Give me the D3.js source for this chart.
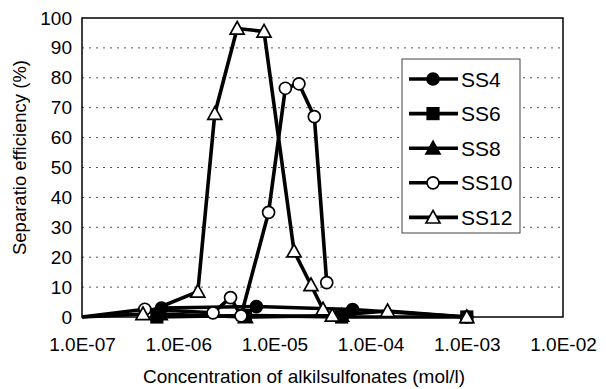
<!DOCTYPE html>
<html>
<head>
<meta charset="utf-8">
<script src="https://cdn.jsdelivr.net/npm/d3@7"></script>
<style>
  html, body { margin: 0; padding: 0; background: #fff; }
  svg { display: block; font-family: "Liberation Sans", Arial, Helvetica, sans-serif; }
</style>
</head>
<body>
<svg id="chart" width="606" height="389"></svg>
<script>
// ---- data ----
const seriesNames = ["SS4", "SS6", "SS8", "SS10", "SS12"];
const ss4Conc  = [6.7e-7, 6.5e-6, 6.5e-5, 1e-3];
const ss4Eff   = [3, 3.5, 2.5, 0];
const ss6Conc  = [6e-7, 5e-6, 5e-5, 1e-3];
const ss6Eff   = [0, 0.5, 0, 0];
const ss8Conc  = [6.5e-7, 5e-6, 5e-5];
const ss8Eff   = [1, 0, 0.5];
const ss10Conc = [1e-7, 4.5e-7, 2.3e-6, 3.5e-6, 4.5e-6, 8.7e-6, 1.3e-5, 1.8e-5, 2.6e-5, 3.5e-5];
const ss10Eff  = [0, 2.6, 1.4, 6.5, 0.4, 35, 76.5, 78, 67, 11.5];
const ss12Conc = [1e-7, 4.3e-7, 1.6e-6, 2.4e-6, 4.1e-6, 7.8e-6, 1.6e-5, 2.4e-5, 3.2e-5, 4e-5, 1.5e-4, 1e-3];
const ss12Eff  = [0, 1, 8.5, 68, 96.5, 95.5, 22, 10.7, 2.6, 0.5, 2, 0];
const xTickValues = [1e-7, 1e-6, 1e-5, 1e-4, 1e-3, 1e-2];
const xTickLabels = ["1.0E-07", "1.0E-06", "1.0E-05", "1.0E-04", "1.0E-03", "1.0E-02"];
const yTickValues = [0, 10, 20, 30, 40, 50, 60, 70, 80, 90, 100];
const xTitle = "Concentration of alkilsulfonates (mol/l)";
const yTitle = "Separatio efficiency (%)";

const seriesConc = [ss4Conc, ss6Conc, ss8Conc, ss10Conc, ss12Conc];
const seriesEff  = [ss4Eff, ss6Eff, ss8Eff, ss10Eff, ss12Eff];
const markerType = ["circle", "square", "triangle", "circle", "triangle"];
const markerFill = ["#000", "#000", "#000", "#fff", "#fff"];

// ---- layout ----
const L = 82, R = 563, T = 18, B = 317;
const svg = d3.select("#chart");
const x = d3.scaleLog().domain([1e-7, 1e-2]).range([L, R]);
const y = d3.scaleLinear().domain([0, 100]).range([B, T]);

// gridlines
svg.append("g").selectAll("line").data(yTickValues.filter(v => v > 0 && v < 100)).join("line")
  .attr("x1", L).attr("x2", R).attr("y1", d => y(d)).attr("y2", d => y(d))
  .attr("stroke", "#555").attr("stroke-width", 1).attr("stroke-dasharray", "2,5");

// plot border
svg.append("rect").attr("x", L).attr("y", T).attr("width", R - L).attr("height", B - T)
  .attr("fill", "none").attr("stroke", "#000").attr("stroke-width", 1.5);

// y axis
const yAxis = d3.axisLeft(y).tickValues(yTickValues).tickSize(0).tickPadding(10);
const gy = svg.append("g").attr("transform", `translate(${L},0)`).call(yAxis);
gy.select(".domain").remove();
gy.selectAll("text").attr("font-size", 19).attr("fill", "#000")
  .attr("font-family", "Liberation Sans, Arial, sans-serif");

// x axis
const xAxis = d3.axisBottom(x).tickValues(xTickValues).tickSize(0).tickPadding(21)
  .tickFormat((d, i) => xTickLabels[i]);
const gx = svg.append("g").attr("transform", `translate(0,${B})`).call(xAxis);
gx.select(".domain").remove();
gx.selectAll("text").attr("font-size", 19).attr("fill", "#000")
  .attr("font-family", "Liberation Sans, Arial, sans-serif");

// titles
svg.append("text").attr("x", 304).attr("y", 383).attr("text-anchor", "middle")
  .attr("font-size", 19).text(xTitle);
svg.append("text").attr("transform", `translate(26,${(T + B) / 2 - 10}) rotate(-90)`)
  .attr("text-anchor", "middle").attr("font-size", 18.5).text(yTitle);

// marker drawing
function drawMarker(g, type, fill, cx, cy) {
  if (type === "circle") {
    g.append("circle").attr("cx", cx).attr("cy", cy).attr("r", 6)
      .attr("fill", fill).attr("stroke", "#000").attr("stroke-width", 1.7);
  } else if (type === "square") {
    g.append("rect").attr("x", cx - 6).attr("y", cy - 6).attr("width", 12).attr("height", 12)
      .attr("fill", fill).attr("stroke", "#000").attr("stroke-width", 1.2);
  } else {
    const s = 7;
    g.append("path").attr("d", `M${cx},${cy - s}L${cx + s},${cy + s * 0.8}L${cx - s},${cy + s * 0.8}Z`)
      .attr("fill", fill).attr("stroke", "#000").attr("stroke-width", 1.7).attr("stroke-linejoin", "miter");
  }
}

const line = d3.line().x(d => x(d[0])).y(d => y(d[1]));
const plot = svg.append("g");
seriesNames.forEach((name, i) => {
  const pts = seriesConc[i].map((c, j) => [c, seriesEff[i][j]]);
  plot.append("path").datum(pts).attr("d", line)
    .attr("fill", "none").attr("stroke", "#000").attr("stroke-width", 3.6)
    .attr("stroke-linejoin", "round");
});
seriesNames.forEach((name, i) => {
  const g = plot.append("g");
  seriesConc[i].forEach((c, j) => {
    if (c <= 1e-7) return; // first point sits on the axis corner, no visible marker
    drawMarker(g, markerType[i], markerFill[i], x(c), y(seriesEff[i][j]));
  });
});

// legend
const lg = svg.append("g");
lg.append("rect").attr("x", 402).attr("y", 59).attr("width", 118).attr("height", 174)
  .attr("fill", "#fff").attr("stroke", "#444").attr("stroke-width", 1);
seriesNames.forEach((name, i) => {
  const cy = 79 + i * 34.6;
  lg.append("line").attr("x1", 409).attr("x2", 458).attr("y1", cy).attr("y2", cy)
    .attr("stroke", "#000").attr("stroke-width", 3.6);
  drawMarker(lg, markerType[i], markerFill[i], 433, cy);
  lg.append("text").attr("x", 461).attr("y", cy + 7.5).attr("font-size", 21).text(name);
});
</script>
</body>
</html>
